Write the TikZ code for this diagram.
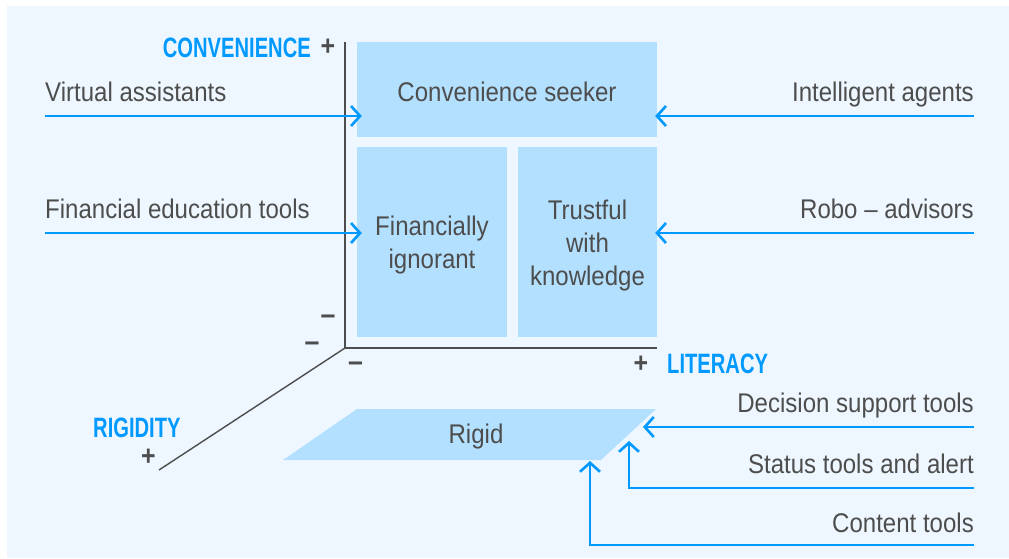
\documentclass[tikz,border=0pt]{standalone}
\usepackage{fontspec}
\setmainfont{Liberation Sans}[FakeStretch=0.89]
\newfontfamily\axisfont{Liberation Sans}[FakeStretch=0.72]
\usetikzlibrary{arrows.meta}

\definecolor{bgblue}{HTML}{EEF7FF}
\definecolor{boxblue}{HTML}{B3E0FF}
\definecolor{toolblue}{HTML}{0099FF}
\definecolor{txtgray}{HTML}{4D4D4D}

\begin{document}
\begin{tikzpicture}[x=1pt, y=-1pt, >={Straight Barb[length=9pt,width=20pt]},
    box/.style={fill=boxblue, inner sep=0pt},
    lbl/.style={text=txtgray, inner sep=0pt, align=center, font=\fontsize{27}{33}\selectfont},
    axlbl/.style={text=toolblue, inner sep=0pt, font=\axisfont\bfseries\fontsize{28}{33}\selectfont},
    sgn/.style={text=txtgray, inner sep=0pt, anchor=base, font=\bfseries\fontsize{28}{33}\selectfont},
    tool/.style={draw=toolblue, line width=2.6pt, ->}]
    % Nền
    \useasboundingbox (0,0) rectangle (1009,558);
    \fill[bgblue] (7,6) rectangle (1009,558);

    % Các trục
    \coordinate (O) at (345,348);
    \coordinate (convtop) at (345,42);
    \coordinate (litend) at (657,348);
    \coordinate (rigend) at (159,470);
    \draw[txtgray, line width=1.4pt] (convtop) -- (O) -- (litend);
    \draw[txtgray, line width=1.4pt] (O) -- (rigend);

    \node[axlbl, anchor=base east] (conv) at (311,57) {CONVENIENCE};
    \node[axlbl, anchor=base west] (lit) at (667,373) {LITERACY};
    \node[axlbl, anchor=base west] (rig) at (93,437) {RIGIDITY};

    % Dấu + và -
    \node[sgn] (convplus) at (328,55.5) {+};
    \node[sgn] (litplus) at (641,372) {+};
    \node[sgn] (rigplus) at (148.5,465.5) {+};
    \node[sgn, font=\bfseries\fontsize{30}{33}\selectfont] (convminus) at (328,324) {–};
    \node[sgn, font=\bfseries\fontsize{30}{33}\selectfont] (rigminus) at (312,351.5) {–};
    \node[sgn, font=\bfseries\fontsize{30}{33}\selectfont] (litminus) at (355.5,371) {–};

    % Các ô
    \node[box, minimum width=300pt, minimum height=95pt] (seeker) at (507,89.5) {};
    \node[box, minimum width=150pt, minimum height=190pt] (ignorant) at (432,242) {};
    \node[box, minimum width=139pt, minimum height=190pt] (trustful) at (587.5,242) {};
    \node[lbl] (seekertxt) at ([yshift=-2.5pt]seeker.center) {Convenience seeker};
    \node[lbl] (ignoranttxt) at ([yshift=-3pt]ignorant.center) {Financially\\ignorant};
    \node[lbl] (trustfultxt) at ([yshift=-3.5pt]trustful.center) {Trustful\\with\\knowledge};

    % Mặt phẳng Rigid
    \coordinate (r1) at (283,460);
    \coordinate (r2) at (601,460);
    \coordinate (r3) at (656,409);
    \coordinate (r4) at (357,409);
    \fill[boxblue] (r1) -- (r2) -- (r3) -- (r4) -- cycle;
    \node[lbl] (rigid) at (476,437) {Rigid};

    % Mũi tên bên trái
    \coordinate (va) at (45,116);
    \coordinate (fet) at (45,233);
    \draw[tool, shorten >=-5pt] (va) -- (va -| seeker.west);
    \draw[tool, shorten >=-5pt] (fet) -- (fet -| ignorant.west);
    \node[lbl, anchor=base west] at ([yshift=14.5pt]va) {Virtual assistants};
    \node[lbl, anchor=base west] at ([yshift=14.5pt]fet) {Financial education tools};

    % Mũi tên bên phải
    \coordinate (ia) at (974,116);
    \coordinate (ra) at (974,233);
    \draw[tool, shorten >=-2pt] (ia) -- (ia -| seeker.east);
    \draw[tool, shorten >=-2pt] (ra) -- (ra -| trustful.east);
    \node[lbl, anchor=base east] at ([yshift=14.5pt]ia) {Intelligent agents};
    \node[lbl, anchor=base east] at ([yshift=14.5pt]ra) {Robo – advisors};

    % Mũi tên vào mặt phẳng Rigid
    \coordinate (dst) at (974,427);
    \coordinate (sta) at (974,488);
    \coordinate (ct) at (974,545);
    \coordinate (dsttip) at (643,427);
    \coordinate (statip) at (629,441);
    \coordinate (cttip) at (590,461);
    \draw[tool] (dst) -- (dsttip);
    \draw[tool] (sta) -| (statip);
    \draw[tool] (ct) -| (cttip);
    \node[lbl, anchor=base east] at ([yshift=14.5pt]dst) {Decision support tools};
    \node[lbl, anchor=base east] at ([yshift=14.5pt]sta) {Status tools and alert};
    \node[lbl, anchor=base east] at ([yshift=13pt]ct) {Content tools};
\end{tikzpicture}
\end{document}
